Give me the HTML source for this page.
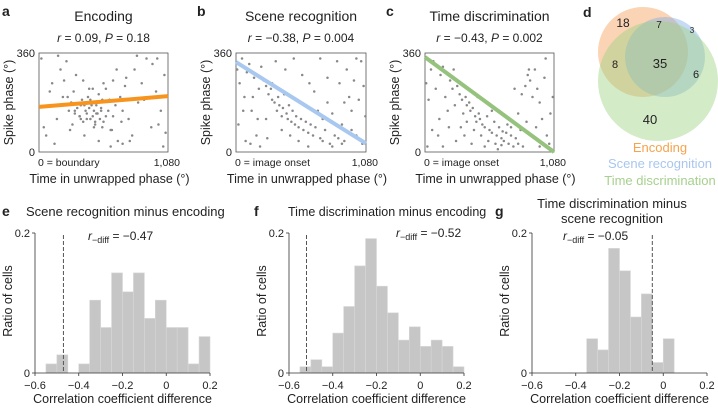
<!DOCTYPE html>
<html><head><meta charset="utf-8">
<style>
html,body{margin:0;padding:0;background:#fff;}
body{width:718px;height:408px;overflow:hidden;font-family:"Liberation Sans",sans-serif;}
svg text{font-family:"Liberation Sans",sans-serif;fill:#222;}
</style></head>
<body>
<svg id="fig" width="718" height="408" viewBox="0 0 718 408" xmlns="http://www.w3.org/2000/svg"></svg>
<script>
// ---- scatter data (time in unwrapped phase, spike phase) ----
const ptsA=[[20,340],[60,60],[110,250],[150,120],[180,300],[200,200],[230,330],[250,150],[270,180],[290,220],[300,140],[320,160],[340,130],[360,190],[370,110],[380,170],[390,150],[400,140],[410,200],[420,160],[430,120],[440,180],[450,130],[460,150],[470,100],[480,170],[490,140],[500,210],[510,120],[520,160],[530,190],[540,110],[560,230],[580,150],[600,80],[620,260],[640,170],[660,40],[680,200],[700,30],[720,240],[750,120],[780,60],[800,300],[830,180],[860,250],[900,340],[940,90],[980,220],[1020,150],[1060,70],[40,90],[90,220],[130,30],[210,260],[260,80],[310,280],[350,120],[380,60],[420,230],[460,90],[500,40],[540,250],[600,20],[650,300],[700,150],[760,40],[820,350],[880,190],[950,320],[1000,100],[1050,280],[300,150],[340,130],[400,120],[440,170],[480,140],[520,150],[560,130],[430,190],[470,110],[350,170],[610,80],[730,270],[160,350],[990,340],[1040,20],[280,100],[620,130],[690,110],[240,200],[370,260],[450,230],[530,90],[590,190]];
const ptsB=[[10,300],[30,250],[50,340],[70,200],[90,290],[110,320],[130,150],[150,270],[170,60],[190,230],[210,310],[230,260],[250,240],[270,210],[290,230],[300,190],[320,180],[340,150],[350,200],[360,170],[380,130],[390,160],[400,210],[420,140],[430,120],[440,170],[460,110],[470,150],[490,100],[500,130],[520,90],[540,120],[560,80],[580,110],[600,70],[620,100],[640,60],[660,90],[680,150],[700,50],[720,40],[740,80],[760,180],[780,30],[800,140],[820,60],[840,330],[860,250],[880,100],[900,40],[920,300],[940,200],[960,150],[980,260],[1000,60],[1020,190],[1040,330],[1060,240],[1075,130],[80,40],[120,30],[200,20],[260,50],[330,330],[410,300],[480,340],[550,280],[610,250],[650,220],[700,340],[760,270],[850,50],[900,180],[1000,340],[380,80],[450,60],[520,40],[600,20],[300,250],[250,120],[180,120],[140,200],[650,150],[720,120],[800,20],[880,30],[960,80],[1050,30],[20,100],[60,150]];
const ptsC=[[10,250],[30,190],[50,300],[70,330],[90,230],[110,60],[130,280],[150,310],[170,200],[190,150],[210,260],[230,230],[250,170],[270,240],[290,210],[310,190],[320,140],[340,200],[350,170],[370,180],[380,150],[400,160],[420,130],[430,110],[450,140],[460,120],[480,100],[500,90],[520,130],[540,80],[560,70],[580,110],[600,60],[620,90],[640,50],[660,40],[680,70],[700,30],[720,60],[740,20],[760,50],[780,30],[800,80],[820,20],[840,240],[860,280],[880,260],[900,200],[920,300],[940,230],[960,180],[980,120],[1000,270],[1020,60],[1050,140],[1070,200],[60,80],[120,120],[200,90],[260,40],[330,60],[390,30],[440,200],[500,20],[560,150],[610,10],[700,120],[780,140],[850,110],[900,60],[960,20],[1010,340],[870,300],[810,210],[750,230],[930,90],[1040,30],[300,90],[350,110],[410,80],[470,60],[530,40],[590,30],[640,25],[690,100],[720,90],[650,75],[150,20],[240,300],[20,20]];
// regression line endpoints (phase at t=0 and t=1080)
const lineA=[164,203];
const lineB=[327,31];
const lineC=[345,0];
// ---- histogram data (bin starts, ratio of cells) ----
const binsE=[-0.55,-0.5,-0.45,-0.4,-0.35,-0.3,-0.25,-0.2,-0.15,-0.1,-0.05,0,0.05,0.1,0.15];
const valsE=[0.013,0.026,0,0.013,0.104,0.065,0.143,0.116,0.143,0.078,0.104,0.065,0.065,0.013,0.052];
const binsF=[-0.55,-0.5,-0.45,-0.4,-0.35,-0.3,-0.25,-0.2,-0.15,-0.1,-0.05,0,0.05,0.1,0.15];
const valsF=[0.009,0.019,0.009,0.057,0.095,0.153,0.192,0.124,0.086,0.047,0.066,0.038,0.047,0.038,0.009];
const binsG=[-0.35,-0.3,-0.25,-0.2,-0.15,-0.1,-0.05,0];
const valsG=[0.049,0.033,0.178,0.146,0.080,0.113,0.015,0.049];
const rdiff=[-0.47,-0.52,-0.05];
const xTicks=[-0.6,-0.4,-0.2,0,0.2];

const NS='http://www.w3.org/2000/svg';
const svg=document.getElementById('fig');
function el(tag,attrs,parent){const e=document.createElementNS(NS,tag);for(const k in attrs)e.setAttribute(k,attrs[k]);(parent||svg).appendChild(e);return e;}
function txt(x,y,s,size,anchor,parent,extra){const t=el('text',Object.assign({x:x,y:y,'font-size':size,'text-anchor':anchor||'start'},extra||{}),parent);t.textContent=s;return t;}

// ---------- scatter panels ----------
function scatter(cfg){
  const g=el('g',{});
  
  
  const x0=cfg.x0,x1=cfg.x1,y0=53,y1=152;
  const sx=t=>x0+t/1080*(x1-x0), sy=p=>y1-p/360*(y1-y0);
  const lab=txt(cfg.lx,16,cfg.letter,14,'start',g,{'font-weight':'bold'});
  
  const ti=txt((x0+x1)/2,21,cfg.title,14,'middle',g);
  
  const st=el('text',{x:(x0+x1)/2,y:42,'font-size':12,'text-anchor':'middle'},g);
  st.innerHTML=cfg.stat;
  
  const box=el('rect',{x:x0,y:y0,width:x1-x0,height:y1-y0,fill:'none',stroke:'#555','stroke-width':0.8},g);
  
  cfg.pts.forEach(p=>{
    const c=el('circle',{cx:sx(p[0]),cy:sy(p[1]),r:1.25,fill:'#888'},g);
    
    
  });
  const ln=el('line',{x1:sx(0),y1:sy(cfg.line[0]),x2:sx(1080),y2:sy(cfg.line[1]),stroke:cfg.color,'stroke-width':4},g);
  
  const t1=txt(x0-4,sy(360)+4,'360',11,'end',g);
  const t2=txt(x0-4,sy(0)+4,'0',11,'end',g);
  const yl=txt(0,0,'Spike phase (°)',12.5,'middle',g,{transform:'translate('+(x0-26)+','+((y0+y1)/2)+') rotate(-90)'});
  
  const xa=txt(x0-1,166,cfg.zero,10.5,'start',g);
  const xb=txt(x1+12,166,'1,080',10.5,'end',g);
  const xl=txt((x0+x1)/2+6,183,'Time in unwrapped phase (°)',12.5,'middle',g);
  
}
scatter({name:'panel-a-encoding',x0:39,x1:168,letter:'a',lx:2,title:'Encoding',stat:'<tspan font-style="italic">r</tspan> = 0.09, <tspan font-style="italic">P</tspan> = 0.18',pts:ptsA,line:lineA,color:'#f7941d',zero:'0 = boundary'});
scatter({name:'panel-b-scene-recognition',x0:236,x1:366,letter:'b',lx:197,title:'Scene recognition',stat:'<tspan font-style="italic">r</tspan> = −0.38, <tspan font-style="italic">P</tspan> = 0.004',pts:ptsB,line:lineB,color:'#a8c8f0',zero:'0 = image onset'});
scatter({name:'panel-c-time-discrimination',x0:425,x1:554,letter:'c',lx:386,title:'Time discrimination',stat:'<tspan font-style="italic">r</tspan> = −0.43, <tspan font-style="italic">P</tspan> = 0.002',pts:ptsC,line:lineC,color:'#95c27c',zero:'0 = image onset'});

// ---------- venn ----------
(function(){
  const g=el('g',{});
  const l=txt(583,17,'d',14,'start',g,{'font-weight':'bold'});
  const c1=el('circle',{cx:643,cy:52,r:45,fill:'rgba(246,170,105,0.5)'},g);
  const c2=el('circle',{cx:665,cy:57,r:40,fill:'rgba(130,175,230,0.45)'},g);
  const c3=el('circle',{cx:658,cy:81,r:60,fill:'rgba(160,210,130,0.45)'},g);
  [['18',623,27,12],['7',659,28,10],['3',692,33,8],['8',615,68,11],['35',660,68,13],['6',696,78,11],['40',650,124,13]].forEach(a=>{
    const t=txt(a[1],a[2],a[0],a[3],'middle',g);
  });
  [['Encoding',152,'#f5a34d'],['Scene recognition',168,'#a9c6ee'],['Time discrimination',185,'#a6d08e']].forEach(a=>{
    const t=txt(660,a[1],a[0],13,'middle',g,{style:'fill:'+a[2]});
  });
})();

// ---------- histograms ----------
function hist(cfg){
  const g=el('g',{});
  const x0=cfg.ax,x1=cfg.ax+175,y0=373,yTop=233;
  const sx=v=>x0+(v+0.6)/0.8*(x1-x0), sy=v=>y0-v/0.2*(y0-yTop);
  const l=txt(cfg.lx,216,cfg.letter,14,'start',g,{'font-weight':'bold'});
  cfg.title.forEach((s,i)=>{const t=txt(cfg.tx,cfg.ty+i*15,s,cfg.tsize,cfg.tanchor,g);});
  cfg.bins.forEach((b,i)=>{
    const v=cfg.vals[i]; if(v<=0)return;
    const r=el('rect',{x:sx(b),y:sy(v),width:sx(b+0.05)-sx(b),height:y0-sy(v),fill:'#c6c6c6',stroke:'#d8d8d8','stroke-width':0.6},g);
    
    
  });
  const ya=el('line',{x1:x0,y1:yTop,x2:x0,y2:y0,stroke:'#333','stroke-width':0.8},g);
  const xa=el('line',{x1:x0-3,y1:y0,x2:x1,y2:y0,stroke:'#333','stroke-width':0.8},g);
  el('line',{x1:x0-3,y1:yTop,x2:x0,y2:yTop,stroke:'#333','stroke-width':0.8},g);
  const ty1=txt(x0-5,yTop+4,'0.2',11,'end',g);
  const ty0=txt(x0-5,y0+4,'0',11,'end',g);
  xTicks.forEach(v=>{
    el('line',{x1:sx(v),y1:y0,x2:sx(v),y2:y0+3,stroke:'#333','stroke-width':0.8},g);
    const t=txt(sx(v),y0+16,v===0?'0':(v<0?'−':'')+Math.abs(v).toFixed(1),11,'middle',g);
    
  });
  const dl=el('line',{x1:sx(cfg.rd),y1:yTop+2,x2:sx(cfg.rd),y2:y0,stroke:'#555','stroke-width':1,'stroke-dasharray':'4,2'},g);
  
  const rt=el('text',{x:cfg.rx,y:cfg.ry,'font-size':12},g);
  rt.innerHTML='<tspan font-style="italic">r</tspan><tspan font-size="9" dy="3">−diff</tspan><tspan dy="-3"> = −'+Math.abs(cfg.rd).toFixed(2)+'</tspan>';
  
  const yl=txt(0,0,'Ratio of cells',12.5,'middle',g,{transform:'translate('+(x0-23)+','+(y0-72)+') rotate(-90)'});
  
  const xl=txt((x0+x1)/2,403,'Correlation coefficient difference',12.5,'middle',g);
  
}
hist({name:'panel-e-histogram',ax:35,lx:2,letter:'e',title:['Scene recognition minus encoding'],tx:26,ty:216,tsize:13,tanchor:'start',bins:binsE,vals:valsE,rd:rdiff[0],rx:88,ry:240});
hist({name:'panel-f-histogram',ax:289,lx:254,letter:'f',title:['Time discrimination minus encoding'],tx:288,ty:216,tsize:12.5,tanchor:'start',bins:binsF,vals:valsF,rd:rdiff[1],rx:396,ry:237});
hist({name:'panel-g-histogram',ax:532,lx:495,letter:'g',title:['Time discrimination minus','scene recognition'],tx:612,ty:208,tsize:13,tanchor:'middle',bins:binsG,vals:valsG,rd:rdiff[2],rx:563,ry:240});
</script>
</body></html>
